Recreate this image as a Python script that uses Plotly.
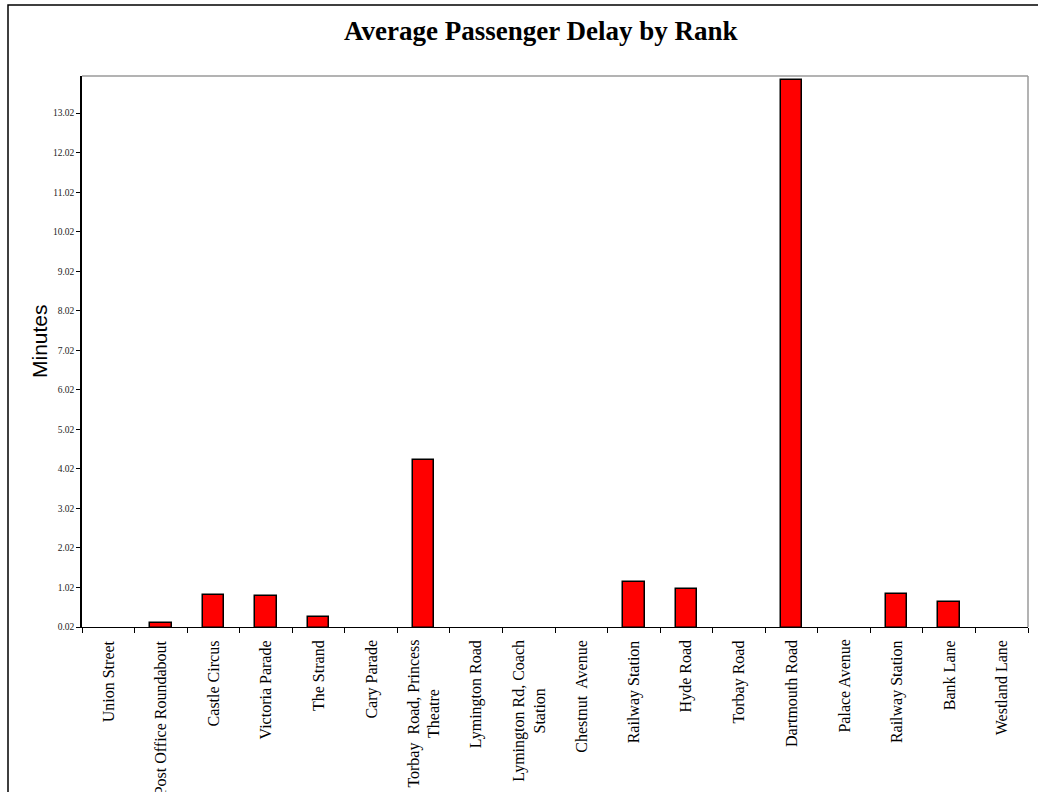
import plotly.graph_objects as go

stops = [
    "Union Street", "Post Office Roundabout", "Castle Circus", "Victoria Parade",
    "The Strand", "Cary Parade", "Torbay  Road, Princess<br>Theatre", "Lymington Road",
    "Lymington Rd, Coach<br>Station", "Chestnut  Avenue", "Railway Station", "Hyde Road",
    "Torbay Road", "Dartmouth Road", "Palace Avenue", "Railway Station", "Bank Lane",
    "Westland Lane",
]
delay_minutes = [0, 0.13, 0.82, 0.80, 0.27, 0, 4.25, 0, 0, 0,
                 1.15, 0.98, 0, 13.87, 0, 0.855, 0.65, 0]
y_ticks = [0.02 + i for i in range(14)]
y_tick_text = ["%.2f" % v for v in y_ticks]

positions = list(range(len(stops)))
SERIF = "Liberation Serif, Times New Roman, serif"

fig = go.Figure(
    go.Bar(
        x=positions,
        y=delay_minutes,
        width=0.41,
        marker=dict(color="#FF0000",
                    line=dict(color="#000000",
                              width=[1.5 if v > 0 else 0 for v in delay_minutes])),
        hoverinfo="skip",
    )
)

fig.update_layout(
    width=1038, height=792,
    margin=dict(l=82, r=10, t=76, b=165),
    paper_bgcolor="white", plot_bgcolor="white",
    showlegend=False,
    bargap=0,
    font=dict(family=SERIF, color="black"),
)

pw, ph = 1038 - 82 - 10, 792 - 76 - 165

# title
fig.add_annotation(text="<b>Average Passenger Delay by Rank</b>",
                   xref="paper", yref="paper",
                   x=(540 - 82) / pw, y=1 + (76 - 31) / ph,
                   xanchor="center", yanchor="middle", showarrow=False,
                   font=dict(family=SERIF, size=27, color="black"))

# y-axis title
fig.add_annotation(text="Minutes", xref="paper", yref="paper",
                   x=(39 - 82) / pw, y=(627 - 341) / ph,
                   xanchor="center", yanchor="middle", textangle=-90, showarrow=False,
                   font=dict(family="Liberation Sans, Arial, sans-serif", size=21, color="black"))

# category labels
for p, s in zip(positions, stops):
    fig.add_annotation(text=s, x=p, xref="x", y=0, yref="paper",
                       yshift=-11, xanchor="center", yanchor="top",
                       textangle=-90, align="center", showarrow=False,
                       font=dict(family=SERIF, size=16, color="black"))

fig.update_xaxes(
    range=[-0.5, len(stops) - 0.5],
    tickmode="array", tickvals=positions, showticklabels=False,
    ticks="",
    showline=True, linecolor="#000000", linewidth=1,
    showgrid=False, zeroline=False,
    minor=dict(tickmode="array", tickvals=[p - 0.5 for p in positions] + [len(stops) - 0.5],
               ticks="outside", ticklen=5, tickcolor="black", tickwidth=1, showgrid=False),
    fixedrange=True,
)

fig.update_yaxes(
    range=[0.02, 13.96],
    tickmode="array", tickvals=y_ticks, ticktext=y_tick_text,
    ticks="outside", ticklen=4, tickcolor="black", tickwidth=1,
    tickfont=dict(family=SERIF, size=9.5, color="#222222"),
    showline=True, linecolor="#000000", linewidth=1.5,
    showgrid=False, zeroline=False,
    fixedrange=True,
)

# plot-area frame (top & right) and outer chart frame
fig.add_shape(type="line", xref="paper", yref="paper", x0=0, x1=1, y0=1, y1=1,
              line=dict(color="#9a9a9a", width=1.5))
fig.add_shape(type="line", xref="paper", yref="paper", x0=1, x1=1, y0=0, y1=1,
              line=dict(color="#9a9a9a", width=1.5))
fig.add_shape(type="rect", xref="paper", yref="paper",
              x0=(8 - 82) / pw, x1=(1045 - 82) / pw,
              y0=(627 - 800) / ph, y1=1 + (76 - 5) / ph,
              line=dict(color="black", width=1.5), fillcolor="rgba(0,0,0,0)", layer="below")

fig.write_html("out.html")
